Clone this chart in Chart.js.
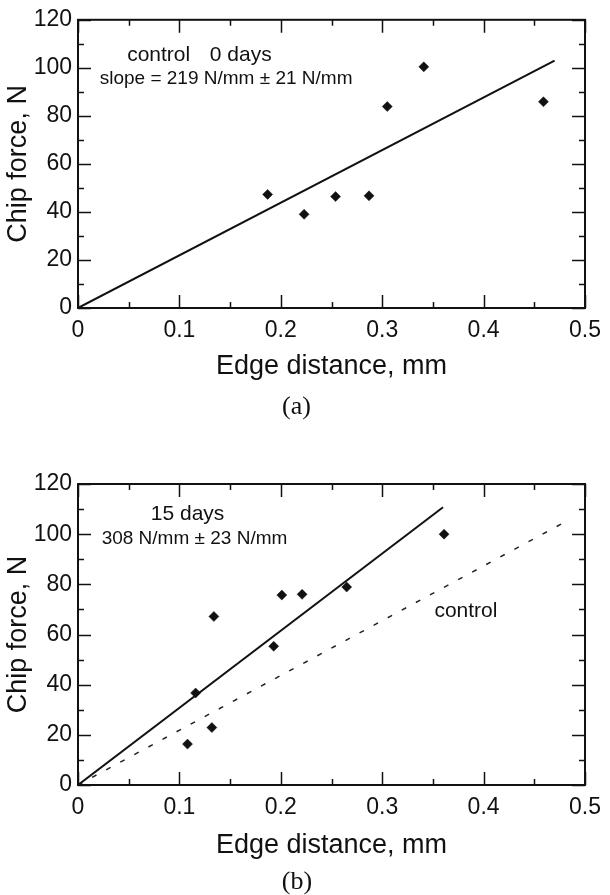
<!DOCTYPE html>
<html>
<head>
<meta charset="utf-8">
<script src="https://cdn.jsdelivr.net/npm/chart.js@4"></script>
<style>
  html, body { margin: 0; padding: 0; background: #fff; overflow: hidden; width: 610px; height: 895px; }
  .wrap { position: absolute; left: 0; width: 610px; }
  #w1 { top: 0; height: 440px; }
  #w2 { top: 440px; height: 460px; }
</style>
</head>
<body>
<div class="wrap" id="w1"><canvas id="c1" width="610" height="440"></canvas></div>
<div class="wrap" id="w2"><canvas id="c2" width="610" height="460"></canvas></div>
<script>
// ---------- data ----------
// (a) control, 0 days
const edgeA = [0.187, 0.223, 0.254, 0.287, 0.305, 0.341, 0.459];
const forceA = [47.3, 39.0, 46.4, 46.7, 83.9, 100.4, 85.9];
const fitAx = [0, 0.47];
const fitAy = [0, 103];

// (b) 15 days
const edgeB = [0.108, 0.116, 0.132, 0.134, 0.193, 0.201, 0.221, 0.265, 0.361];
const forceB = [16.3, 36.7, 22.9, 67.2, 55.3, 75.7, 76.0, 78.9, 100.0];
const fitBx = [0, 0.36];
const fitBy = [0, 110.7];
const ctrlBx = [0, 0.48];
const ctrlBy = [0, 104.8];

// axes
const xMajor = [0, 0.1, 0.2, 0.3, 0.4, 0.5];
const xTickLabels = ['0', '0.1', '0.2', '0.3', '0.4', '0.5'];
const xMinor = [0.05, 0.15, 0.25, 0.35, 0.45];
const yMajor = [0, 20, 40, 60, 80, 100, 120];
const yTickLabels = ['0', '20', '40', '60', '80', '100', '120'];
const yMinor = [10, 30, 50, 70, 90, 110];

// annotations: [text, x value, y value (baseline), font size]
const notesA = [
  ['control', 0.0485, 103, 21],
  ['0 days', 0.130, 103, 21],
  ['slope = 219 N/mm \u00b1 21 N/mm', 0.0214, 93.3, 19]
];
const notesB = [
  ['15 days', 0.0718, 105.6, 21],
  ['308 N/mm \u00b1 23 N/mm', 0.0233, 96, 19],
  ['control', 0.3515, 66.8, 21]
];

const SANS = '"Liberation Sans", Arial, sans-serif';
const SERIF = '"Liberation Serif", "Times New Roman", serif';
const INK = '#111';

function pts(xs, ys) { return xs.map((x, i) => ({ x: x, y: ys[i] })); }

const framePlugin = {
  id: 'frame',
  afterDatasetsDraw(chart) {
    const ctx = chart.ctx, a = chart.chartArea;
    const xs = chart.scales.x, ys = chart.scales.y;
    ctx.save();
    ctx.strokeStyle = INK;
    ctx.lineWidth = 1.5;
    const tick = (vals, len) => {
      vals.forEach(v => {
        const px = Math.round(xs.getPixelForValue(v)) + 0.5;
        ctx.beginPath();
        ctx.moveTo(px, a.bottom); ctx.lineTo(px, a.bottom - len);
        ctx.moveTo(px, a.top); ctx.lineTo(px, a.top + len);
        ctx.stroke();
      });
    };
    const tickY = (vals, len) => {
      vals.forEach(v => {
        const py = Math.round(ys.getPixelForValue(v)) + 0.5;
        ctx.beginPath();
        ctx.moveTo(a.left, py); ctx.lineTo(a.left + len, py);
        ctx.moveTo(a.right, py); ctx.lineTo(a.right - len, py);
        ctx.stroke();
      });
    };
    tick(xMajor, 13); tick(xMinor, 6);
    tickY(yMajor, 13); tickY(yMinor, 6);
    ctx.lineWidth = 2;
    ctx.strokeRect(a.left, a.top, a.right - a.left, a.bottom - a.top);
    // annotations
    const notes = chart.options.plugins.frame.notes;
    ctx.fillStyle = INK;
    ctx.textAlign = 'left';
    ctx.textBaseline = 'alphabetic';
    notes.forEach(n => {
      ctx.font = n[3] + 'px ' + SANS;
      ctx.fillText(n[0], xs.getPixelForValue(n[1]), ys.getPixelForValue(n[2]));
    });
    ctx.restore();
  }
};

function makeChart(id, datasets, notes, cfg) {
  return new Chart(document.getElementById(id), {
    type: 'scatter',
    data: { datasets: datasets },
    options: {
      responsive: false,
      animation: false,
      events: [],
      layout: { autoPadding: false, padding: { left: 0, right: cfg.right, top: cfg.top, bottom: 0 } },
      plugins: {
        legend: { display: false },
        tooltip: { enabled: false },
        title: {
          display: true, position: 'bottom', text: cfg.caption, color: INK,
          font: { family: SERIF, size: 26, weight: 'normal', lineHeight: 1.2 },
          padding: { top: 0, bottom: cfg.capPad }
        },
        frame: { notes: notes }
      },
      scales: {
        x: {
          type: 'linear', min: 0, max: 0.5,
          afterFit: s => { s.height = cfg.xH; },
          afterBuildTicks: s => { s.ticks = xMajor.map(v => ({ value: v })); },
          grid: { display: false, drawTicks: false },
          border: { display: false },
          ticks: {
            color: INK, padding: 9, maxRotation: 0, autoSkip: false,
            font: { family: SANS, size: 23 },
            callback: (v, i) => xTickLabels[i]
          },
          title: {
            display: true, text: 'Edge distance, mm', color: INK,
            font: { family: SANS, size: 27 }, padding: { top: 0, bottom: cfg.xTitlePad }
          }
        },
        y: {
          type: 'linear', min: 0, max: 120,
          afterFit: s => { s.width = 78; },
          afterBuildTicks: s => { s.ticks = yMajor.map(v => ({ value: v })); },
          grid: { display: false, drawTicks: false },
          border: { display: false },
          ticks: {
            color: INK, padding: 6, autoSkip: false,
            font: { family: SANS, size: 23 },
            callback: (v, i) => yTickLabels[i]
          },
          title: {
            display: true, text: 'Chip force, N', color: INK,
            font: { family: SANS, size: 27 }, padding: { top: 2, bottom: 0 }
          }
        }
      }
    },
    plugins: [framePlugin]
  });
}

const marker = { showLine: false, pointStyle: 'rectRot', pointRadius: 5, pointBackgroundColor: INK, pointBorderColor: INK, pointBorderWidth: 0.5, order: 0 };
const fitLine = (d, extra) => Object.assign({ data: d, showLine: true, borderColor: INK, borderWidth: 2, pointRadius: 0, fill: false, order: 1 }, extra || {});

makeChart('c1', [
  Object.assign({ data: pts(edgeA, forceA) }, marker),
  fitLine(pts(fitAx, fitAy))
], notesA, { top: 8, right: 17, xH: 83.4, capPad: 17.4, xTitlePad: 9, caption: '(a)' });

makeChart('c2', [
  Object.assign({ data: pts(edgeB, forceB) }, marker),
  fitLine(pts(fitBx, fitBy)),
  fitLine(pts(ctrlBx, ctrlBy), { borderWidth: 1.5, borderDash: [5, 11], borderColor: '#222' })
], notesB, { top: 44, right: 16, xH: 81.4, capPad: 2.4, xTitlePad: 4.7, caption: '(b)' });
</script>
</body>
</html>
